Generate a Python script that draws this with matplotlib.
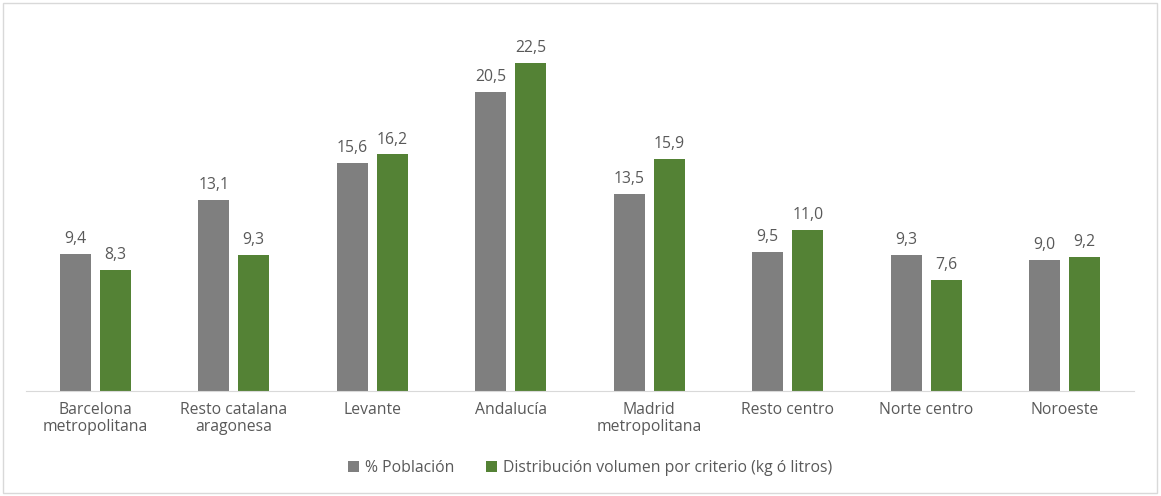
import numpy as np
import matplotlib.pyplot as plt
from matplotlib.patches import Rectangle

categories = ['Barcelona\nmetropolitana', 'Resto catalana\naragonesa', 'Levante', 'Andalucía',
              'Madrid\nmetropolitana', 'Resto centro', 'Norte centro', 'Noroeste']
poblacion = [9.4, 13.1, 15.6, 20.5, 13.5, 9.5, 9.3, 9.0]
volumen = [8.3, 9.3, 16.2, 22.5, 15.9, 11.0, 7.6, 9.2]
series_names = ['% Población', 'Distribución volumen por criterio (kg ó litros)']

GRAY = '#7f7f7f'
GREEN = '#548235'
TXT = '#595959'
FS = 11.3

plt.rcParams['font.family'] = ['Open Sans', 'DejaVu Sans']

fig = plt.figure(figsize=(11.61, 4.96), dpi=100)
ax = fig.add_axes([26 / 1161, 1 - 391 / 496, (1134 - 26) / 1161, (391 - 26) / 496])

x = np.arange(len(categories))
w = 0.223
off = 0.144
b1 = ax.bar(x - off, poblacion, w, color=GRAY, label=series_names[0])
b2 = ax.bar(x + off, volumen, w, color=GREEN, label=series_names[1])

for bars, vals in ((b1, poblacion), (b2, volumen)):
    for r, v in zip(bars, vals):
        ax.annotate(f'{v:.1f}'.replace('.', ','), (r.get_x() + r.get_width() / 2, v),
                    xytext=(0, 5), textcoords='offset points', ha='center', va='bottom',
                    fontsize=FS, color=TXT)

ax.set_xlim(-0.5, len(categories) - 0.5)
ax.set_ylim(0, 25)
ax.set_yticks([])
ax.set_xticks(x)
ax.set_xticklabels(categories, fontsize=FS, color=TXT, linespacing=1.1)
ax.tick_params(axis='x', length=0, pad=8)
for s in ('top', 'right', 'left'):
    ax.spines[s].set_visible(False)
ax.spines['bottom'].set_color('#d9d9d9')

fig.legend(handles=[b1, b2], labels=series_names, loc='center', bbox_to_anchor=(0.508, 1 - 468 / 496),
           ncol=2, frameon=False, fontsize=FS, labelcolor=TXT, handlelength=0.7, handleheight=0.7,
           handletextpad=0.4, columnspacing=2.0)

fig.patches.append(Rectangle((3 / 1161, 3 / 496), 1154 / 1161, 490 / 496, transform=fig.transFigure,
                             fill=False, edgecolor='#d9d9d9', linewidth=1))

fig.savefig('out.png', dpi=100)
